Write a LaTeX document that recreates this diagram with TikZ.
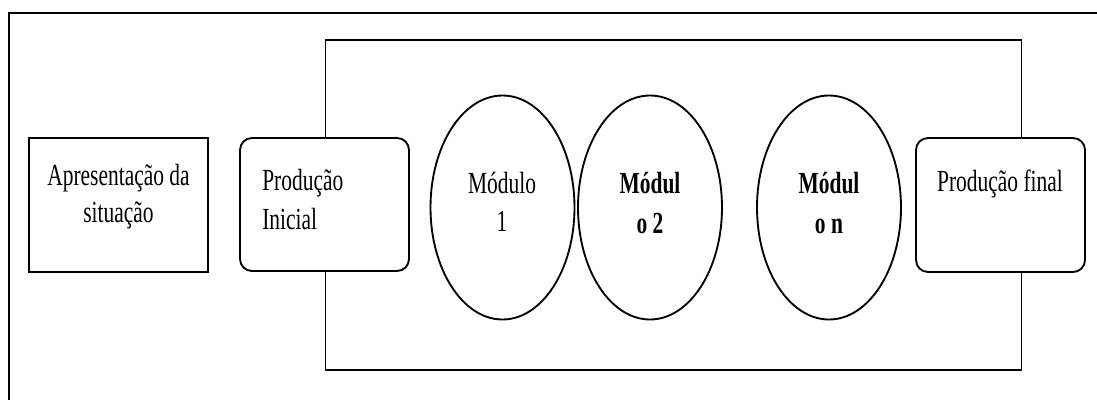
\documentclass[tikz,border=0pt]{standalone}
\usepackage{fontspec}
\setmainfont{Liberation Serif}[FakeStretch=0.70]
\usetikzlibrary{shapes.geometric}
\begin{document}
\begin{tikzpicture}[x=0.75pt,y=-0.75pt,
  shapeline/.style={draw=black,line width=1.4pt},
  sqbox/.style={shapeline,fill=white,rectangle,inner sep=0pt},
  rbox/.style={shapeline,fill=white,rectangle,rounded corners=9pt,inner sep=0pt},
  modell/.style={shapeline,ellipse,inner sep=0pt,minimum width=108pt,minimum height=168pt},
  lbl/.style={font=\fontsize{23}{28.5}\selectfont,inner sep=0pt,anchor=base},
  blbl/.style={lbl,font=\fontsize{23}{28.5}\selectfont\bfseries},
]
\useasboundingbox (0,0) rectangle (1097,400);
\fill[white] (0,0) rectangle (1097,400);
% outer frame (cropped)
\coordinate (fTR) at (1097,13);
\coordinate (fTL) at (9,13);
\coordinate (fBL) at (9,400);
\draw[line width=1.7pt] (fTR) -- (fTL) -- (fBL);
% inner big rectangle
\node[shapeline,rectangle,minimum width=522pt,minimum height=247.5pt,inner sep=0pt] (frame) at (673.5,205) {};
% boxes
\node[sqbox,minimum width=134.25pt,minimum height=100.5pt] (apres) at (118.5,205) {};
\node[rbox,minimum width=126.75pt,minimum height=99.75pt] (pinit) at (324.5,204.5) {};
\node[rbox,minimum width=126.75pt,minimum height=100.5pt] (pfinal) at (1000.5,205) {};
% modules
\node[modell] (m1) at (502.5,207.5) {};
\node[modell] (m2) at (650,207.5) {};
\node[modell] (mn) at (829,207.5) {};
% texts
\node[lbl] (tapres1) at (118.5,185) {Apresentação da};
\node[lbl] (tapres2) at (118.5,222) {situação};
\node[lbl,anchor=base west] (tpi1) at (262,190) {Produção};
\node[lbl,anchor=base west] (tpi2) at (262,229) {Inicial};
\node[lbl] (tm11) at (502,193) {Módulo};
\node[lbl] (tm12) at (502,231) {1};
\node[blbl] (tm21) at (650,193) {Módul};
\node[blbl] (tm22) at (650,233) {o 2};
\node[blbl] (tmn1) at (829,193) {Módul};
\node[blbl] (tmn2) at (829,233) {o n};
\node[lbl] (tpf) at (1000,191) {Produção final};
\end{tikzpicture}
\end{document}
